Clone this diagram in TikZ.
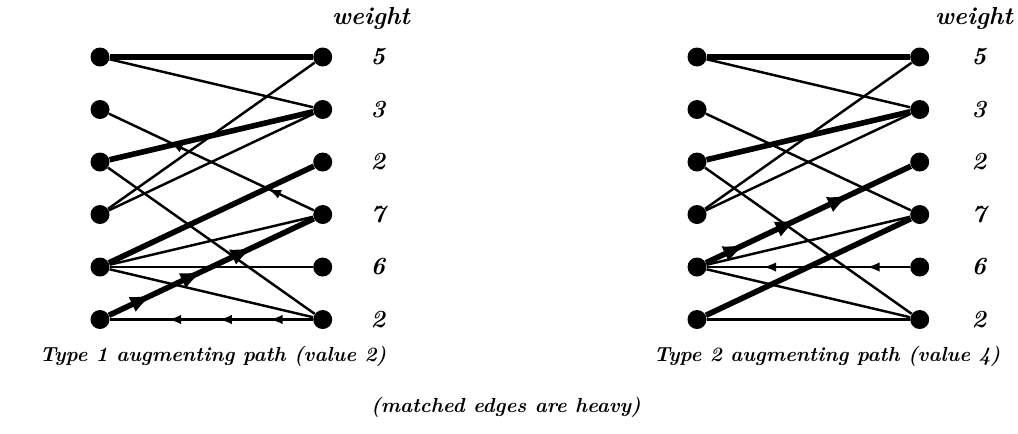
\documentclass[tikz,border=0pt]{standalone}
\usepackage{tikz}
\usetikzlibrary{positioning, arrows, decorations.markings}
\tikzset{
    vertex/.style={circle, fill, inner sep=0pt, minimum size=0.38cm},
    light/.style={line width=1.4pt},
    heavy/.style={line width=3.2pt},
    wt/.style={font=\fontsize{14}{16}\selectfont\bfseries\itshape, inner sep=1pt},
    caption/.style={font=\fontsize{11.6}{14}\selectfont\bfseries\itshape},
    marks/.style n args={3}{postaction={decorate},
      decoration={markings, mark=between positions #1 and #2 step #3 with {\arrow{latex}}}},
}

\begin{document}
\begin{tikzpicture}
    \tikzset{
      node distance=0.656cm and 4.06cm
    }
    \useasboundingbox (0,0) rectangle (20.36,-8.66);

    % type 1 graph
    \node[vertex] (a1) at (2,-1.14) {};
    \node[vertex, below=of a1] (a2) {};
    \node[vertex, below=of a2] (a3) {};
    \node[vertex, below=of a3] (a4) {};
    \node[vertex, below=of a4] (a5) {};
    \node[vertex, below=of a5] (a6) {};
    \node[vertex, right=of a1] (b1) {};
    \node[vertex, right=of a2] (b2) {};
    \node[vertex, right=of a3] (b3) {};
    \node[vertex, right=of a4] (b4) {};
    \node[vertex, right=of a5] (b5) {};
    \node[vertex, right=of a6] (b6) {};

    \node[wt, right=0.72cm of b1] (v1) {5};
    \node[wt, right=0.72cm of b2] (v2) {3};
    \node[wt, right=0.72cm of b3] (v3) {2};
    \node[wt, right=0.72cm of b4] (v4) {7};
    \node[wt, right=0.72cm of b5] (v5) {6};
    \node[wt, right=0.72cm of b6] (v6) {2};
    \node[wt, above=0.3cm of v1, xshift=-0.14cm] (vt) {weight};

    \draw[light] (a1) -- (b2);
    \draw[light, marks={0.22}{0.71}{0.48}] (b4) -- (a2);
    \draw[light] (a3) -- (b6);
    \draw[light] (a4) -- (b1);
    \draw[light] (a4) -- (b2);
    \draw[light] (a5) -- (b4);
    \draw[light] (a5) -- (b5);
    \draw[light] (a5) -- (b6);
    \draw[light, marks={0.21}{0.72}{0.25}] (b6) -- (a6);
    \draw[heavy] (a1) -- (b1);
    \draw[heavy] (a3) -- (b2);
    \draw[heavy] (a5) -- (b3);
    \draw[heavy, marks={0.21}{0.71}{0.245}] (a6) -- (b4);

    % type 2 graph
    \node[vertex] (c1) at (13.94,-1.14) {};
    \node[vertex, below=of c1] (c2) {};
    \node[vertex, below=of c2] (c3) {};
    \node[vertex, below=of c3] (c4) {};
    \node[vertex, below=of c4] (c5) {};
    \node[vertex, below=of c5] (c6) {};
    \node[vertex, right=of c1] (d1) {};
    \node[vertex, right=of c2] (d2) {};
    \node[vertex, right=of c3] (d3) {};
    \node[vertex, right=of c4] (d4) {};
    \node[vertex, right=of c5] (d5) {};
    \node[vertex, right=of c6] (d6) {};

    \node[wt, right=0.8cm of d1] (u1) {5};
    \node[wt, right=0.8cm of d2] (u2) {3};
    \node[wt, right=0.8cm of d3] (u3) {2};
    \node[wt, right=0.8cm of d4] (u4) {7};
    \node[wt, right=0.8cm of d5] (u5) {6};
    \node[wt, right=0.8cm of d6] (u6) {2};
    \node[wt, above=0.3cm of u1, xshift=-0.1cm] (ut) {weight};

    \draw[light] (c1) -- (d2);
    \draw[light] (c2) -- (d4);
    \draw[light] (c3) -- (d6);
    \draw[light] (c4) -- (d1);
    \draw[light] (c4) -- (d2);
    \draw[light] (c5) -- (d4);
    \draw[light, marks={0.21}{0.73}{0.51}] (d5) -- (c5);
    \draw[light] (c5) -- (d6);
    \draw[light] (c6) -- (d6);
    \draw[heavy] (c1) -- (d1);
    \draw[heavy] (c3) -- (d2);
    \draw[heavy, marks={0.19}{0.71}{0.255}] (c5) -- (d3);
    \draw[heavy] (c6) -- (d4);

    \node[caption] (t1) at (4.26,-7.12) {Type 1 augmenting path (value 2)};
    \node[caption] (t2) at (16.54,-7.12) {Type 2 augmenting path (value 4)};
    \node[caption] (t3) at (10.12,-8.14) {(matched edges are heavy)};
  \end{tikzpicture}
\end{document}
